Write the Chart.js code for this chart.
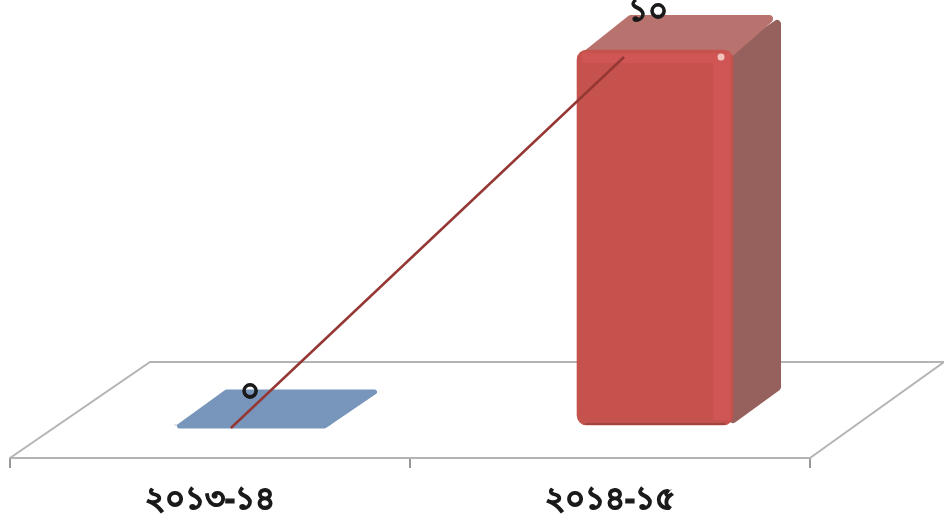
<!DOCTYPE html>
<html lang="bn">
<head>
  <meta charset="UTF-8" />
  <title>Bar and line chart</title>
  <style>
    html, body { margin: 0; background: #fff; }
    #box { width: 944px; height: 522px; }
  </style>
</head>
<body>
  <div id="box"><canvas id="myChart" width="944" height="522"></canvas></div>

  <script src="https://cdn.jsdelivr.net/npm/chart.js"></script>
  <script>
    const categories = ['২০১৩-১৪', '২০১৪-১৫'];
    const values = [0, 10];
    const valueLabels = ['০', '১০'];
    const barColors = ['#7896bc', '#c5524c'];

    const valueFont = 'bold 31px "Noto Sans", "DejaVu Sans", sans-serif';
    const depthX = 48, depthY = 35;     // 3d depth of the bars
    const valueShift = [[19, -36], [24, -45]];

    function poly(ctx, pts, fill) {
      ctx.beginPath();
      pts.forEach((p, i) => i ? ctx.lineTo(p[0], p[1]) : ctx.moveTo(p[0], p[1]));
      ctx.closePath();
      ctx.fillStyle = fill;
      ctx.fill();
    }

    // floor of the 3d plot and the faces the library has no bar for
    const fake3d = {
      id: 'fake3d',
      beforeDatasetsDraw(chart) {
        const { ctx, chartArea: a } = chart;
        ctx.save();
        ctx.strokeStyle = '#b4b4b4';
        ctx.lineWidth = 2;
        ctx.beginPath();
        ctx.moveTo(a.left, a.bottom);
        ctx.lineTo(a.left + 140, a.bottom - 96);
        ctx.lineTo(a.right + 134, a.bottom - 96);
        ctx.lineTo(a.right, a.bottom);
        ctx.stroke();

        const bars = chart.getDatasetMeta(0).data;
        // flat blue bar, value 0
        const b = bars[0], l0 = b.x - b.width / 2, r0 = b.x + b.width / 2;
        ctx.lineJoin = 'round';
        ctx.lineWidth = 5;
        ctx.strokeStyle = barColors[0];
        const flat = [[l0 + 5, b.base + 1], [r0 - 6, b.base + 1], [r0 + 44, b.base - 33], [l0 + 52, b.base - 33]];
        poly(ctx, flat, barColors[0]);
        ctx.stroke();

        // red bar, side and top
        const r = bars[1], l1 = r.x - r.width / 2, r1 = r.x + r.width / 2;
        ctx.lineWidth = 8;
        ctx.strokeStyle = '#96605c';
        poly(ctx, [[r1, r.y + 4], [r1 + depthX - 4, r.y - depthY + 9], [r1 + depthX - 4, r.base - 38], [r1, r.base - 6]], '#96605c');
        ctx.stroke();
        ctx.strokeStyle = '#b9736f';
        poly(ctx, [[l1 + 10, r.y + 4], [l1 + depthX + 6, r.y - depthY + 4], [r1 + depthX - 12, r.y - depthY + 4], [r1 - 4, r.y + 4]], '#b9736f');
        ctx.stroke();
        ctx.restore();
      },
      afterDatasetDraw(chart, args) {
        if (args.index !== 0) return;
        const { ctx } = chart;
        const r = args.meta.data[1], l1 = r.x - r.width / 2, r1 = r.x + r.width / 2;
        ctx.save();
        // bevel of the red bar
        ctx.fillStyle = '#cf5654';
        ctx.fillRect(l1 + 5, r.y + 3, r.width - 10, 10);
        ctx.fillRect(r1 - 20, r.y + 3, 17, r.base - r.y - 8);
        ctx.fillStyle = '#a04440';
        ctx.fillRect(l1 + 8, r.base - 2, r.width - 16, 2);
        ctx.fillStyle = '#f3c4bc';
        ctx.beginPath();
        ctx.arc(r1 - 12, r.y + 7, 3.5, 0, Math.PI * 2);
        ctx.fill();
        ctx.restore();
      },
      afterDatasetsDraw(chart) {
        const { ctx } = chart;
        ctx.save();
        ctx.fillStyle = '#1a1a1a';
        ctx.strokeStyle = '#1a1a1a';
        ctx.lineWidth = 0.8;
        ctx.font = valueFont;
        ctx.textAlign = 'center';
        ctx.textBaseline = 'middle';
        chart.getDatasetMeta(1).data.forEach((p, i) => {
          ctx.fillText(valueLabels[i], p.x + valueShift[i][0], p.y + valueShift[i][1]);
          ctx.strokeText(valueLabels[i], p.x + valueShift[i][0], p.y + valueShift[i][1]);
        });
        ctx.restore();
      }
    };

    new Chart(document.getElementById('myChart'), {
      data: {
        labels: categories,
        datasets: [
          {
            type: 'bar',
            data: values.map((v, i) => ({ x: i, y: v })),
            backgroundColor: barColors,
            borderRadius: 10,
            borderSkipped: false,
            barThickness: 156,
            grouped: false,
            xAxisID: 'xBar',
            yAxisID: 'yBar',
            order: 1
          },
          {
            type: 'line',
            data: values.map((v, i) => ({ x: i, y: v })),
            borderColor: '#953735',
            borderWidth: 2.5,
            pointRadius: 0,
            fill: false,
            xAxisID: 'xLine',
            yAxisID: 'y',
            order: 0
          }
        ]
      },
      options: {
        responsive: false,
        animation: false,
        layout: { padding: { left: 10, right: 134, top: 0, bottom: 0 } },
        plugins: { legend: { display: false }, tooltip: { enabled: false } },
        scales: {
          x: {
            type: 'category',
            labels: categories,
            offset: true,
            afterFit(scale) { scale.height = 64; },
            border: { color: '#b4b4b4', width: 2 },
            grid: { drawOnChartArea: false, color: '#999', lineWidth: 2, tickLength: 10, offset: true },
            ticks: {
              color: '#1a1a1a',
              font: { family: '"Noto Sans", "DejaVu Sans", sans-serif', size: 31, weight: 'bold' },
              textStrokeColor: '#1a1a1a',
              textStrokeWidth: 1.2,
              padding: 14,
              maxRotation: 0
            }
          },
          // hidden axes: the 3d bars sit in front of the line and off the tick centres
          xBar: { type: 'linear', display: false, offset: false, min: -0.6025, max: 1.385 },
          xLine: { type: 'linear', display: false, offset: false, min: -0.562, max: 1.473 },
          y: { display: false, min: -0.8086, max: 11.536 },
          yBar: { display: false, min: -0.88, max: 11.333 }
        }
      },
      plugins: [fake3d]
    });
  </script>
</body>
</html>
